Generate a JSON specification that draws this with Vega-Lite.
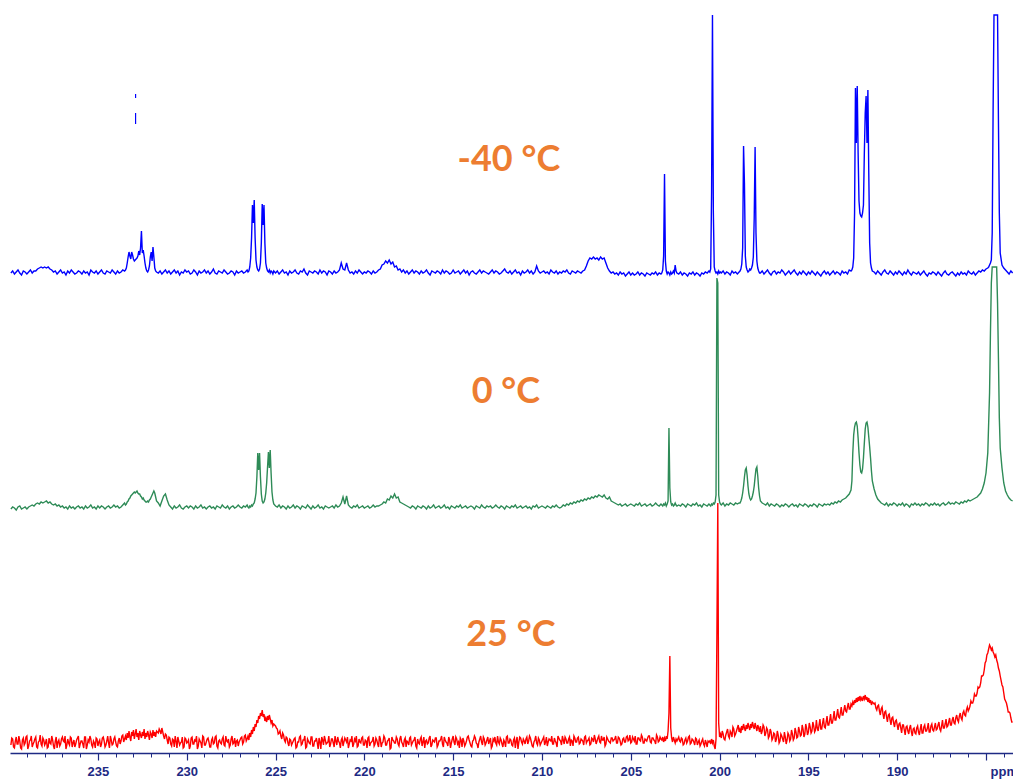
{
"$schema": "https://vega.github.io/schema/vega-lite/v6.json",
"usermeta": {"embedOptions": {"actions": false}},
"width": 1003,
"height": 753,
"autosize": {"type": "none"},
"padding": {"left": 10, "top": 0, "right": 0, "bottom": 28},
"background": "white",
"config": {"view": {"stroke": null}},
"layer": [
{
"data": {"values": [
{"p":[239.9,239.8,239.7,239.6,239.5,239.4,239.3,239.2,239.1,239.0,238.9,238.8,238.7,238.6,238.5,238.4,238.3,238.2,238.1,238.0,237.9,237.8,237.7,237.6,237.5,237.4,237.3,237.2,237.1,237.0,236.9,236.8,236.7,236.6,236.5,236.4,236.3,236.2,236.1,236.0,235.9,235.8,235.7,235.6,235.5,235.4,235.3,235.2,235.1,235.0,234.9,234.8,234.7,234.6,234.5,234.4,234.3,234.2,234.1,234.0,233.9,233.8,233.7,233.6,233.5],
"b":[480,482,479,481,483,480,478,482,481,479,481,483,480,482,482,484,485,486,485,486,485,486,484,483,481,482,479,481,483,480,481,478,482,480,483,481,479,480,482,481,479,482,480,481,478,483,481,480,482,479,481,483,480,479,482,481,480,483,481,479,482,480,481,483,482],
"g":[244,246,245,243,246,247,244,245,246,244,246,247,248,247,249,250,249,251,250,251,252,250,251,249,248,249,247,248,246,247,245,246,244,247,245,246,244,246,247,245,246,244,247,245,246,248,245,246,244,247,245,247,246,244,246,247,245,246,248,246,247,245,246,248,250],
"r":[8,14,5,16,9,12,4,15,10,17,7,13,6,11,16,5,12,9,15,8,14,6,10,17,7,12,5,13,9,16,11,4,14,8,15,10,6,13,17,9,12,5,16,8,11,14,6,10,15,7,13,9,16,6,12,10,17,8,14,11,6,15,12,18,14]},
{"p":[233.45,233.4,233.35,233.3,233.25,233.2,233.15,233.1,233.05,233.0,232.95,232.9,232.85,232.8,232.75,232.7,232.65,232.6,232.55,232.5,232.45,232.4,232.35,232.3,232.25,232.2,232.15,232.1,232.05,232.0,231.95,231.9,231.85,231.8,231.75,231.7],
"b":[483,485,490,496,501,497,494,501,498,494,492,493,494,495,497,502,498,505,522,500,503,497,490,485,482,481,483,487,496,501,492,506,496,485,482,481],
"g":[248,249,251,252,254,255,257,258,259,260,261,260,261,262,260,259,259,257,256,254,255,253,252,251,251,252,251,253,254,256,258,260,262,260,256,252],
"r":[17,13,20,15,22,16,12,21,17,23,14,19,24,16,20,13,22,18,15,21,17,24,14,20,16,22,18,13,21,19,15,23,17,21,16,22]},
{"p":[231.6,231.5,231.4,231.3,231.2,231.1,231.0,230.9,230.8,230.7,230.6,230.5,230.4,230.3,230.2,230.1,230.0,229.9,229.8,229.7,229.6,229.5,229.4,229.3,229.2,229.1,229.0,228.9,228.8,228.7,228.6,228.5,228.4,228.3,228.2,228.1,228.0,227.9,227.8,227.7,227.6,227.5,227.4,227.3,227.2,227.1,227.0,226.9,226.8,226.7,226.6],
"b":[480,482,479,481,483,480,482,479,481,483,480,482,478,481,480,483,481,482,479,480,483,481,478,482,480,481,483,480,482,479,481,484,480,479,482,481,480,483,481,479,480,482,481,478,482,480,481,482,480,481,483],
"g":[250,247,252,257,259,253,248,246,244,247,245,246,248,245,244,246,247,245,247,246,244,247,245,246,248,245,246,244,246,247,245,246,244,247,246,245,248,246,245,247,244,246,247,245,246,248,246,245,247,246,248],
"r":[20,22,25,17,19,13,16,9,14,6,12,16,8,11,5,15,10,13,7,16,9,12,4,14,10,17,8,11,15,6,13,9,16,7,12,10,14,8,17,11,6,14,9,15,12,7,13,16,11,18,14]},
{"p":[226.55,226.5,226.45,226.4,226.35,226.3,226.25,226.2,226.15,226.1,226.05,226.0,225.95,225.9,225.85,225.8,225.75,225.7,225.65,225.6,225.55,225.5,225.45,225.4,225.35,225.3,225.25,225.2,225.15,225.1],
"b":[481,482,486,495,515,548,530,553,515,493,486,483,482,484,490,510,549,528,548,510,490,485,482,481,483,480,482,481,479,482],
"g":[246,245,247,246,248,247,249,250,254,260,276,300,283,300,276,259,252,250,251,254,260,270,286,301,285,303,280,261,253,249],
"r":[17,13,20,16,23,19,26,22,29,26,33,30,37,34,40,37,43,36,39,32,35,31,37,33,38,34,30,33,27,29]},
{"p":[225.0,224.9,224.8,224.7,224.6,224.5,224.4,224.3,224.2,224.1,224.0,223.9,223.8,223.7,223.6,223.5,223.4,223.3,223.2,223.1,223.0,222.9,222.8,222.7,222.6,222.5,222.4,222.3,222.2,222.1,222.0,221.9,221.8,221.7,221.6,221.5,221.4,221.3,221.2,221.1,221.0,220.9,220.8,220.7,220.6,220.5,220.4,220.3,220.2,220.1,220.0,219.9,219.8,219.7,219.6,219.5,219.4,219.3,219.2,219.1,219.0,218.9,218.8,218.7,218.6,218.5,218.4,218.3,218.2,218.1,218.0,217.9,217.8,217.7,217.6,217.5,217.4,217.3,217.2,217.1,217.0,216.9,216.8,216.7,216.6,216.5,216.4,216.3,216.2,216.1,216.0,215.9,215.8,215.7,215.6,215.5,215.4,215.3,215.2,215.1,215.0,214.9,214.8,214.7,214.6,214.5,214.4,214.3,214.2,214.1,214.0,213.9,213.8,213.7,213.6,213.5,213.4,213.3,213.2,213.1,213.0,212.9,212.8,212.7,212.6,212.5,212.4,212.3,212.2,212.1,212.0,211.9,211.8,211.7,211.6,211.5,211.4,211.3,211.2,211.1,211.0,210.9,210.8,210.7,210.6,210.5,210.4,210.3,210.2,210.1,210.0,209.9,209.8,209.7,209.6,209.5,209.4,209.3,209.2,209.1,209.0,208.9,208.8,208.7,208.6,208.5,208.4,208.3,208.2,208.1,208.0,207.9,207.8,207.7,207.6,207.5,207.4,207.3,207.2,207.1,207.0,206.9,206.8,206.7,206.6,206.5,206.4,206.3,206.2,206.1,206.0,205.9,205.8,205.7,205.6,205.5,205.4,205.3,205.2,205.1,205.0,204.9,204.8,204.7,204.6,204.5,204.4,204.3,204.2,204.1,204.0,203.9,203.8,203.7,203.6,203.5,203.4,203.3],
"b":[480,482,479,481,483,480,481,478,482,480,481,483,480,479,482,481,484,480,478,482,481,480,482,481,479,483,480,482,481,478,482,481,479,482,480,481,483,490,484,483,490,483,480,481,479,482,480,483,481,479,481,480,482,481,479,482,480,481,483,484,488,489,492,490,493,489,491,486,487,483,484,481,483,480,482,479,481,483,480,482,481,479,482,480,481,483,480,478,482,481,480,482,481,479,483,480,482,481,479,480,483,480,481,482,479,481,483,480,482,478,481,482,480,479,481,483,480,482,481,480,479,481,483,480,482,481,479,480,482,484,481,480,482,479,481,483,480,481,478,482,480,481,483,480,482,479,481,487,482,480,481,482,480,481,479,483,481,480,482,479,481,480,482,481,483,480,479,482,481,480,482,481,480,482,483,487,492,495,494,496,494,495,493,496,494,495,490,485,482,480,481,479,480,478,481,479,480,477,479,481,478,480,478,479,481,478,480,479,477,480,479,478,480,479,481,478,480,479],
"g":[247,246,248,245,247,246,244,247,245,246,248,245,247,246,244,247,246,245,248,246,244,247,245,246,248,245,246,244,247,246,245,246,247,245,248,246,247,250,256,249,257,248,246,245,247,246,248,245,246,247,245,246,247,245,246,248,246,247,247,248,249,251,250,254,253,257,255,259,255,256,251,250,249,248,247,246,245,247,246,244,247,246,245,247,246,244,247,245,246,248,245,246,247,245,246,248,245,246,244,247,246,245,247,246,248,245,246,247,245,246,247,246,244,247,246,245,248,246,245,247,246,247,245,246,248,246,245,247,246,244,247,246,245,247,246,248,245,246,247,245,246,247,245,246,244,247,246,248,245,246,247,246,245,247,246,245,247,246,248,246,245,246,248,247,249,248,250,249,251,250,252,251,253,252,254,253,255,254,256,255,257,256,258,257,256,258,255,254,256,252,251,250,249,248,249,247,248,249,247,248,249,248,247,249,248,250,247,248,249,247,248,249,247,248,250,248,247,249],
"r":[27,24,20,17,20,13,16,10,14,8,12,15,6,11,17,9,13,5,14,10,16,7,12,15,4,11,16,8,13,10,17,9,14,6,12,16,10,13,7,15,11,5,13,17,9,12,6,14,10,16,8,12,15,7,11,16,9,13,6,14,10,17,8,12,15,5,13,10,16,9,14,11,6,15,12,8,16,10,13,7,14,9,16,11,5,13,10,17,8,12,15,6,12,14,9,16,11,7,13,10,17,8,14,11,15,6,12,9,16,13,7,12,17,10,5,14,11,16,8,13,9,15,7,12,10,17,9,13,6,11,16,10,14,8,13,5,16,11,15,9,12,14,9,17,11,6,13,10,15,8,12,16,11,7,14,12,9,15,10,17,13,8,13,16,10,14,7,12,17,11,15,9,14,12,16,10,13,8,15,11,14,12,17,10,13,16,9,14,11,15,12,14,10,16,12,9,15,11,17,13,10,16,12,9,15,13,18,10,14,12,17,11,15,13,9,16,12,14]},
{"p":[203.25,203.2,203.15,203.1,203.05,203.0,202.95,202.9,202.85,202.8,202.75,202.7,202.65,202.6,202.55,202.5,202.45,202.4],
"b":[480,483,497,579,492,482,479,481,480,478,481,479,480,482,480,488,482,480],
"g":[248,247,249,248,250,247,249,252,325,265,251,248,249,247,248,250,248,247],
"r":[13,16,11,15,12,17,14,22,40,97,25,15,11,16,13,10,14,12]},
{"p":[202.3,202.2,202.1,202.0,201.9,201.8,201.7,201.6,201.5,201.4,201.3,201.2,201.1,201.0,200.9,200.8,200.7,200.6],
"b":[479,481,478,480,479,477,480,479,481,478,480,479,477,480,479,481,480,482],
"g":[248,247,249,248,246,249,248,247,249,248,250,247,248,246,249,248,247,249],
"r":[16,11,14,9,15,12,17,10,13,8,14,11,7,12,9,13,6,11]},
{"p":[200.55,200.5,200.45,200.4,200.35,200.3,200.25,200.2,200.15,200.1,200.05,200.0,199.95],
"b":[481,484,560,738,540,486,482,480,481,479,482,480,481],
"g":[248,247,249,248,250,249,251,258,475,470,258,251,249],
"r":[12,9,14,10,13,7,4,14,120,250,30,16,19]},
{"p":[199.9,199.8,199.7,199.6,199.5,199.4,199.3,199.2,199.1,199.0,198.9],
"b":[480,482,479,481,480,478,482,480,481,479,481],
"g":[248,250,247,249,248,250,249,248,250,249,250],
"r":[15,19,13,21,17,22,16,24,19,25,21]},
{"p":[198.85,198.8,198.75,198.7,198.65,198.6,198.55,198.5,198.45,198.4,198.35,198.3,198.25,198.2,198.15,198.1,198.05,198.0,197.95,197.9,197.85,197.8,197.75],
"b":[482,484,489,505,607,570,497,486,483,481,482,484,483,485,488,496,535,606,520,492,485,482,480],
"g":[250,252,255,260,267,276,283,285,278,267,259,255,253,254,257,261,267,276,284,286,277,265,257],
"r":[24,20,27,23,29,25,22,28,24,30,26,23,29,25,31,27,24,30,26,22,28,25,21]},
{"p":[197.7,197.6,197.5,197.4,197.3,197.2,197.1,197.0,196.9,196.8,196.7,196.6,196.5,196.4,196.3,196.2,196.1,196.0,195.9,195.8,195.7,195.6,195.5,195.4,195.3,195.2,195.1,195.0,194.9,194.8,194.7,194.6,194.5,194.4,194.3,194.2,194.1,194.0,193.9,193.8,193.7,193.6,193.5,193.4,193.3,193.2,193.1,193.0,192.9,192.8,192.7,192.6],
"b":[480,482,479,481,483,480,478,481,482,479,481,480,483,481,478,480,482,479,481,483,480,478,481,479,482,480,478,481,479,482,480,478,481,479,477,480,482,479,481,478,480,482,479,481,480,478,482,480,481,479,483,482],
"g":[252,250,249,248,250,247,249,248,247,249,248,246,248,247,249,248,246,248,249,247,248,246,249,248,247,249,248,246,248,247,249,248,246,249,248,247,249,248,249,248,250,249,251,250,252,251,253,254,255,257,259,263],
"r":[27,22,26,20,23,17,21,15,19,14,18,12,17,11,16,13,18,14,19,15,21,16,22,18,24,19,25,21,26,22,27,23,25,28,24,30,26,31,28,33,30,35,33,38,36,40,38,43,42,46,44,49]},
{"p":[192.55,192.5,192.45,192.4,192.35,192.3,192.25,192.2,192.15,192.1,192.05,192.0,191.95,191.9,191.85,191.8,191.75,191.7,191.65,191.6,191.55,191.5,191.45,191.4],
"b":[483,486,495,540,665,610,667,600,552,540,537,536,540,548,600,640,657,610,663,580,510,490,485,482],
"g":[272,300,318,326,330,331,327,315,300,288,281,280,284,295,310,324,330,331,326,316,306,295,282,272],
"r":[47,51,48,53,50,55,51,56,52,57,53,55,52,57,54,58,53,56,51,55,50,53,48,51]},
{"p":[191.3,191.2,191.1,191.0,190.9,190.8,190.7,190.6,190.5,190.4,190.3,190.2,190.1,190.0,189.9,189.8,189.7,189.6,189.5,189.4,189.3,189.2,189.1,189.0,188.9,188.8,188.7,188.6,188.5,188.4,188.3,188.2,188.1,188.0,187.9,187.8,187.7,187.6,187.5,187.4,187.3,187.2,187.1,187.0,186.9,186.8,186.7,186.6,186.5,186.4,186.3,186.2,186.1,186.0,185.9,185.8,185.7,185.6,185.5,185.4,185.3,185.2,185.1,185.0,184.9],
"b":[481,479,482,480,478,481,483,480,479,482,480,478,481,479,482,480,478,481,479,483,480,478,481,480,479,481,478,480,482,479,477,480,479,481,480,478,481,479,477,480,482,479,478,480,481,479,477,480,478,481,479,480,478,482,480,479,481,478,480,482,481,483,482,484,485],
"g":[264,258,254,252,250,249,248,250,247,249,248,250,249,247,249,248,250,247,249,248,246,249,248,250,248,249,247,249,248,250,249,247,249,248,250,248,249,247,249,250,248,249,251,249,250,249,251,250,249,251,250,252,251,253,252,253,254,255,256,258,260,264,270,280,300],
"r":[49,45,47,42,44,39,41,36,38,33,35,30,32,28,29,25,28,23,26,22,25,21,24,20,25,21,24,20,26,22,25,21,27,23,26,23,28,24,27,25,29,26,31,28,33,30,35,33,37,35,40,38,43,42,47,50,53,57,60,65,70,77,83,92,100]},
{"p":[184.85,184.8,184.75,184.7,184.65,184.6,184.55,184.5,184.45,184.4,184.35,184.3,184.25,184.2],
"b":[486,488,490,493,520,643,738,738,738,738,738,633,540,500],
"g":[330,360,420,470,486,486,486,486,486,486,450,395,335,305],
"r":[104,108,106,103,105,101,99,96,98,93,90,85,82,77]},
{"p":[184.1,184.0,183.9,183.8,183.7,183.6,183.5],
"b":[488,485,483,481,479,482,480],
"g":[285,270,262,258,255,253,252],
"r":[68,60,52,46,41,35,31]},
{"p":[239.85,239.75,239.65,239.55,239.45,239.35,239.25,239.15,239.05,238.95,238.85,238.75,238.65,238.55,238.45,238.35,238.25,238.15,238.05,237.95,237.85,237.75,237.65,237.55,237.45,237.35,237.25,237.15,237.05,236.95,236.85,236.75,236.65,236.55,236.45,236.35,236.25,236.15,236.05,235.95,235.85,235.75,235.65,235.55,235.45,235.35,235.25,235.15,235.05,234.95,234.85,234.75,234.65,234.55,234.45,234.35,234.25,234.15,234.05,233.95,233.85,233.75,233.65,233.55],
"b":[],"g":[],
"r":[15,6,12,9,17,5,13,8,16,4,12,17,9,14,6,11,18,7,13,10,5,15,9,13,4,16,11,7,14,12,17,8,10,16,6,13,9,15,5,12,9,16,4,13,17,8,12,5,14,11,6,15,12,8,17,5,13,9,16,7,12,9,17,11]},
{"p":[231.55,231.45,231.35,231.25,231.15,231.05,230.95,230.85,230.75,230.65,230.55,230.45,230.35,230.25,230.15,230.05,229.95,229.85,229.75,229.65,229.55,229.45,229.35,229.25,229.15,229.05,228.95,228.85,228.75,228.65,228.55,228.45,228.35,228.25,228.15,228.05,227.95,227.85,227.75,227.65,227.55,227.45,227.35,227.25,227.15,227.05,226.95,226.85,226.75,226.65],
"b":[],"g":[],
"r":[24,19,21,14,18,9,15,7,13,17,5,12,10,16,6,14,11,4,15,9,13,17,7,12,5,16,8,14,11,6,15,10,17,5,13,9,16,7,12,14,8,17,10,6,13,11,15,9,17,12]},
{"p":[224.95,224.85,224.75,224.65,224.55,224.45,224.35,224.25,224.15,224.05,223.95,223.85,223.75,223.65,223.55,223.45,223.35,223.25,223.15,223.05,222.95,222.85,222.75,222.65,222.55,222.45,222.35,222.25,222.15,222.05,221.95,221.85,221.75,221.65,221.55,221.45,221.35,221.25,221.15,221.05,220.95,220.85,220.75,220.65,220.55,220.45,220.35,220.25,220.15,220.05,219.95,219.85,219.75,219.65,219.55,219.45,219.35,219.25,219.15,219.05,218.95,218.85,218.75,218.65,218.55,218.45,218.35,218.25,218.15,218.05,217.95,217.85,217.75,217.65,217.55,217.45,217.35,217.25,217.15,217.05,216.95,216.85,216.75,216.65,216.55,216.45,216.35,216.25,216.15,216.05,215.95,215.85,215.75,215.65,215.55,215.45,215.35,215.25,215.15,215.05,214.95,214.85,214.75,214.65,214.55,214.45,214.35,214.25,214.15,214.05,213.95,213.85,213.75,213.65,213.55,213.45,213.35,213.25,213.15,213.05,212.95,212.85,212.75,212.65,212.55,212.45,212.35,212.25,212.15,212.05,211.95,211.85,211.75,211.65,211.55,211.45,211.35,211.25,211.15,211.05,210.95,210.85,210.75,210.65,210.55,210.45,210.35,210.25,210.15,210.05,209.95,209.85,209.75,209.65,209.55,209.45,209.35,209.25,209.15,209.05,208.95,208.85,208.75,208.65,208.55,208.45,208.35,208.25,208.15,208.05,207.95,207.85,207.75,207.65,207.55,207.45,207.35,207.25,207.15,207.05,206.95,206.85,206.75,206.65,206.55,206.45,206.35,206.25,206.15,206.05,205.95,205.85,205.75,205.65,205.55,205.45,205.35,205.25,205.15,205.05,204.95,204.85,204.75,204.65,204.55,204.45,204.35,204.25,204.15,204.05,203.95,203.85,203.75,203.65,203.55,203.45,203.35],
"b":[],"g":[],
"r":[25,19,22,14,18,11,15,7,13,10,14,5,11,16,8,13,17,6,12,9,16,7,12,10,15,4,13,17,9,11,6,14,10,17,8,12,5,15,11,13,16,9,12,6,14,17,7,11,15,8,13,5,16,10,12,7,15,9,17,6,11,15,8,13,4,16,12,10,14,7,17,9,13,6,11,15,8,12,16,5,10,14,7,16,12,9,15,6,13,11,15,8,12,17,6,13,10,16,5,14,11,16,9,5,13,15,7,12,17,10,6,13,15,9,11,17,8,14,10,16,12,5,14,16,8,11,15,9,13,6,17,10,13,7,15,12,4,16,11,14,9,16,12,15,7,11,17,8,13,10,14,8,16,11,13,17,9,12,6,15,12,17,9,14,10,16,13,7,15,11,16,10,13,8,17,12,15,9,14,18,9,15,11,17,13,7,16,12,10,15,13,17,10,15,8,14,11,16,12,18,11,14,17,9,15,12,16,10,13,15,17,10,15,12,18,11,16]},
{"p":[202.25,202.15,202.05,201.95,201.85,201.75,201.65,201.55,201.45,201.35,201.25,201.15,201.05,200.95,200.85,200.75,200.65],
"b":[],"g":[],
"r":[12,15,8,13,10,16,9,14,11,15,8,13,9,14,7,10,12]},
{"p":[199.85,199.75,199.65,199.55,199.45,199.35,199.25,199.15,199.05,198.95],
"b":[],"g":[],
"r":[22,14,18,24,15,20,26,17,22,28]},
{"p":[197.65,197.55,197.45,197.35,197.25,197.15,197.05,196.95,196.85,196.75,196.65,196.55,196.45,196.35,196.25,196.15,196.05,195.95,195.85,195.75,195.65,195.55,195.45,195.35,195.25,195.15,195.05,194.95,194.85,194.75,194.65,194.55,194.45,194.35,194.25,194.15,194.05,193.95,193.85,193.75,193.65,193.55,193.45,193.35,193.25,193.15,193.05,192.95,192.85,192.75,192.65],
"b":[],"g":[],
"r":[19,28,17,25,15,24,13,20,11,22,10,19,14,21,9,20,12,23,13,25,15,26,17,28,16,29,18,30,20,31,21,33,22,34,24,35,25,37,28,39,30,42,33,44,35,46,38,48,41,50,44]},
{"p":[191.25,191.15,191.05,190.95,190.85,190.75,190.65,190.55,190.45,190.35,190.25,190.15,190.05,189.95,189.85,189.75,189.65,189.55,189.45,189.35,189.25,189.15,189.05,188.95,188.85,188.75,188.65,188.55,188.45,188.35,188.25,188.15,188.05,187.95,187.85,187.75,187.65,187.55,187.45,187.35,187.25,187.15,187.05,186.95,186.85,186.75,186.65,186.55,186.45,186.35,186.25,186.15,186.05,185.95,185.85,185.75,185.65,185.55,185.45,185.35,185.25,185.15,185.05,184.95],
"b":[],"g":[],
"r":[50,43,48,38,46,34,42,31,39,28,36,26,33,23,30,20,28,18,27,19,28,17,25,19,27,18,29,20,28,22,30,21,29,22,30,24,31,22,33,25,34,27,35,28,36,29,38,31,40,33,42,37,46,44,52,50,59,57,66,66,77,78,90,98]},
{"p":[184.05,183.95,183.85,183.75,183.65,183.55],
"b":[],"g":[],
"r":[66,54,50,41,40,31]}
]},
"transform": [
{"flatten": ["p", "b", "g", "r"]},
{"fold": ["b", "g", "r"], "as": ["s", "v"]},
{"filter": "datum.v != null && datum.p != null"}
],
"mark": {"type": "line", "clip": true},
"encoding": {
"x": {"field": "p", "type": "quantitative",
"scale": {"domain": [183.48, 239.95], "reverse": true, "nice": false, "zero": false},
"axis": {
"orient": "bottom",
"values": [235, 230, 225, 220, 215, 210, 205, 200, 195, 190, 185],
"labelExpr": "datum.value == 185 ? 'ppm' : datum.label",
"title": null, "grid": false,
"domainColor": "#1e2a84", "domainWidth": 1.5,
"tickColor": "#1e2a84", "tickSize": 7, "tickWidth": 1.2,
"labelColor": "#1e2a84", "labelFont": "Liberation Sans", "labelFontSize": 13, "labelFontWeight": "bold",
"labelPadding": 5, "labelFlush": false, "labelOverlap": false,
"labelAlign": {"condition": {"test": "datum.value == 185", "value": "left"}, "value": "center"},
"labelOffset": {"condition": {"test": "datum.value == 185", "value": 4}, "value": 0}
}},
"y": {"field": "v", "type": "quantitative", "scale": {"domain": [0, 753], "nice": false, "zero": false}, "axis": null},
"color": {"field": "s", "type": "nominal", "scale": {"domain": ["b", "g", "r"], "range": ["#0000ff", "#2e8b57", "#ff0000"]}, "legend": null},
"strokeWidth": {"field": "s", "type": "nominal", "scale": {"domain": ["b", "g", "r"], "range": [1.4, 1.4, 1.6]}, "legend": null}
}
},
{
"data": {"values": [
{"p": 232.88, "y1": 659, "y2": 655},
{"p": 232.88, "y1": 640, "y2": 629}
]},
"mark": {"type": "rule", "color": "#0000ff", "strokeWidth": 1.2},
"encoding": {
"x": {"field": "p", "type": "quantitative", "axis": null},
"y": {"field": "y1", "type": "quantitative", "axis": null},
"y2": {"field": "y2"}
}
},
{
"data": {"values": [
{"t": "-40 °C", "p": 211.86, "y": 593},
{"t": "0 °C", "p": 212.03, "y": 361},
{"t": "25 °C", "p": 211.75, "y": 118}
]},
"mark": {"type": "text", "font": "Lato", "fontWeight": "bold", "fontSize": 36, "color": "#ED7D31", "align": "center", "baseline": "middle"},
"encoding": {
"x": {"field": "p", "type": "quantitative",
"axis": {
"orient": "bottom",
"values": [239,238,237,236,234,233,232,231,229,228,227,226,224,223,222,221,219,218,217,216,214,213,212,211,209,208,207,206,204,203,202,201,199,198,197,196,194,193,192,191,189,188,187,186,184],
"labels": false, "domain": false, "title": null, "grid": false,
"tickColor": "#1e2a84", "tickSize": 4, "tickWidth": 1
}},
"y": {"field": "y", "type": "quantitative", "axis": null},
"text": {"field": "t"}
}
}
],
"resolve": {"axis": {"x": "independent"}}
}
